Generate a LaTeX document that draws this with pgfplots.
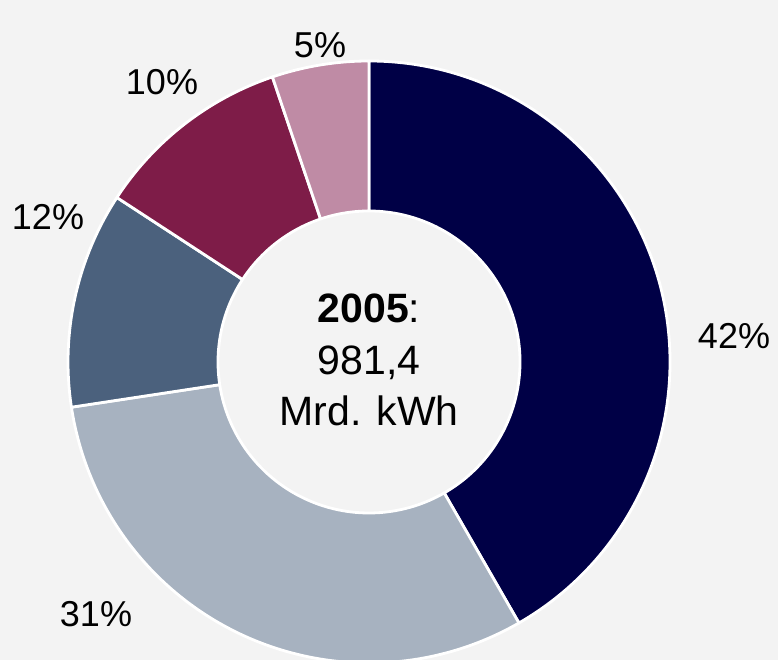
\documentclass[border=0pt]{standalone}
\usepackage{pgfplots}
\pgfplotsset{compat=1.18}
\usepackage{fontspec}
\setmainfont{Liberation Sans}
\definecolor{bgc}{HTML}{F3F3F3}
\definecolor{c1}{HTML}{000046}
\definecolor{c2}{HTML}{A7B2C0}
\definecolor{c3}{HTML}{4B617D}
\definecolor{c4}{HTML}{7E1C48}
\definecolor{c5}{HTML}{BF8BA5}
\begin{document}
\begin{tikzpicture}
\useasboundingbox (0,0) rectangle (778pt,660pt);
\clip (0,0) rectangle (778pt,660pt);
\begin{axis}[at={(0,0)},anchor=south west,width=778pt,height=660pt,scale only axis,
  xmin=0,xmax=778,ymin=0,ymax=660,hide axis,clip=false]
\pgfplotsextra{
  \fill[bgc] (axis cs:0,0) rectangle (axis cs:778,660);
  \foreach \v/\c [remember=\cum as \last (initially 0)] in {41.7/c1,30.9/c2,11.6/c3,10.6/c4,5.2/c5}{
    \pgfmathsetmacro\cum{\last+\v}
    \pgfmathsetmacro\aa{90-3.6*\last}
    \pgfmathsetmacro\ab{90-3.6*\cum}
    \fill[\c, draw=white, line width=2.8pt, line join=round]
      ([shift={(\aa:301pt)}]axis cs:369,298) arc[start angle=\aa, end angle=\ab, radius=301pt]
      -- ([shift={(\ab:151pt)}]axis cs:369,298) arc[start angle=\ab, end angle=\aa, radius=151pt] -- cycle;
  }
  \node[font=\fontsize{36}{43}\selectfont] at (axis cs:734,324) {42\%};
  \node[font=\fontsize{36}{43}\selectfont] at (axis cs:96,46) {31\%};
  \node[font=\fontsize{36}{43}\selectfont] at (axis cs:48,443) {12\%};
  \node[font=\fontsize{36}{43}\selectfont] at (axis cs:162,578) {10\%};
  \node[font=\fontsize{36}{43}\selectfont] at (axis cs:320,615) {5\%};
  \node[font=\fontsize{41}{51.5}\selectfont, align=center] at (axis cs:369,300)
    {\textbf{2005}:\\981,4\\Mrd. kWh};
}
\end{axis}
\end{tikzpicture}
\end{document}
